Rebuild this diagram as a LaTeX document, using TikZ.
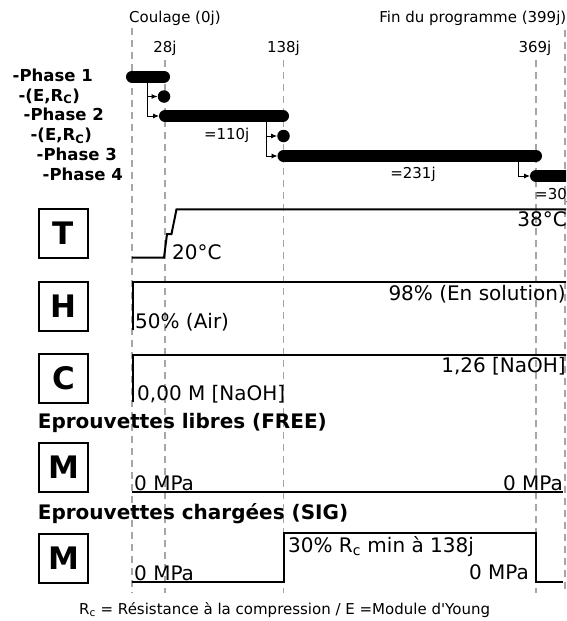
\documentclass[tikz,border=0pt]{standalone}
\usepackage{fontspec}
\setmainfont{DejaVu Sans}
\usetikzlibrary{positioning,arrows.meta,calc}
\tikzset{
  dayline/.style={gray!70, line width=1.2pt, dash pattern=on 7pt off 5pt},
  phasebar/.style={line width=12pt, line cap=round},
  phasedot/.style={circle, fill=black, inner sep=0pt, minimum size=12.5pt},
  linkarrow/.style={-{Latex[length=6pt,width=5pt]}, line width=0.9pt},
  phaselabel/.style={font=\fontsize{16.5}{18}\selectfont\bfseries, anchor=base east, inner sep=0pt},
  daylabel/.style={font=\fontsize{15}{17}\selectfont, inner sep=0pt},
  curve/.style={line width=2pt},
  curvelabel/.style={font=\fontsize{20}{22}\selectfont, inner sep=0pt},
  parambox/.style={draw, line width=2pt, minimum size=49pt, inner sep=0pt, font=\fontsize{31}{31}\selectfont\bfseries},
  grouplabel/.style={font=\fontsize{20}{22}\selectfont\bfseries, anchor=base west, inner sep=0pt}
}
\begin{document}
\begin{tikzpicture}[x=1pt, y=-1pt]
  \useasboundingbox (0,0) rectangle (566,621);
  \clip (0,0) rectangle (566,621);
  % day marks
  \foreach \x/\ytop in {132/28, 165/60, 283.5/60, 536/60, 565/30}
    \draw[dayline] (\x,\ytop) -- (\x,593);
  \node[daylabel, anchor=base west] (coulage) at (129,22.7) {Coulage (0j)};
  \node[daylabel, anchor=base east] (fin) at (566.5,22.7) {Fin du programme (399j)};
  \node[daylabel, anchor=base] (j28) at (165,52.7) {28j};
  \node[daylabel, anchor=base] (j138) at (283.5,52.7) {138j};
  \node[daylabel, anchor=base] (j369) at (535,52.7) {369j};
  % phases
  \node[phaselabel] (ph1) at (93,81.7) {-Phase 1};
  \node[phaselabel] (em1) at (80,101) {-(E,R\textsubscript{C})};
  \node[phaselabel] (ph2) at (104,120.7) {-Phase 2};
  \node[phaselabel] (em2) at (92,140.7) {-(E,R\textsubscript{C})};
  \node[phaselabel] (ph3) at (117,160.7) {-Phase 3};
  \node[phaselabel] (ph4) at (123,180.5) {-Phase 4};
  \coordinate (p1a) at (132,76.5);
  \coordinate (p1b) at (164,76.5);
  \coordinate (p2a) at (165,116);
  \coordinate (p2b) at (283,116);
  \coordinate (p3a) at (283.5,156);
  \coordinate (p3b) at (536,156);
  \coordinate (p4a) at (536,176);
  \coordinate (p4b) at (620,176);
  \draw[phasebar] (p1a) -- (p1b);
  \draw[phasebar] (p2a) -- (p2b);
  \draw[phasebar] (p3a) -- (p3b);
  \draw[phasebar] (p4a) -- (p4b);
  \node[phasedot] (m1) at (164,96.5) {};
  \node[phasedot] (m2) at (283.5,136) {};
  \coordinate (l1) at (147,76.5);
  \coordinate (l2) at (266.7,116);
  \coordinate (l3) at (518,156);
  \draw[linkarrow] (l1) |- (m1.west);
  \draw[linkarrow] (l1) |- ([xshift=-6pt]p2a);
  \draw[linkarrow] (l2) |- (m2.west);
  \draw[linkarrow] (l2) |- ([xshift=-6pt]p3a);
  \draw[linkarrow] (l3) |- ([xshift=-6pt]p4a);
  \node[daylabel, anchor=base] (dur2) at (226.7,139) {=110j};
  \node[daylabel, anchor=base] (dur3) at (413,178) {=231j};
  \node[daylabel, anchor=base west] (dur4) at (535,199) {=30j};
  % temperature
  \node[parambox] (T) at (63.5,233.5) {T};
  \draw[curve] (132,257.7) -- (164,257.7) -- (167,234) -- (171.5,234) -- (176.5,209.3) -- (600,209.3);
  \node[curvelabel, anchor=base west] (t20) at (172,259) {20°C};
  \node[curvelabel, anchor=base east] (t38) at (567,226.7) {38°C};
  % humidity
  \node[parambox] (H) at (63.5,306.5) {H};
  \draw[curve] (133,330) -- (133,282) -- (600,282);
  \node[curvelabel, anchor=base west] (h50) at (135,328) {50\% (Air)};
  \node[curvelabel, anchor=base east] (h98) at (566,300) {98\% (En solution)};
  % concentration
  \node[parambox] (C) at (63.5,378.5) {C};
  \draw[curve] (133,401.7) -- (133,355) -- (600,355);
  \node[curvelabel, anchor=base west] (c0) at (137,400.5) {0,00 M [NaOH]};
  \node[curvelabel, anchor=base east] (c1) at (566,372.5) {1,26 [NaOH]};
  % free specimens
  \node[grouplabel] (free) at (37.7,428) {Eprouvettes libres (FREE)};
  \node[parambox] (M1) at (63.5,467.5) {M};
  \draw[curve] (132,491.7) -- (563,491.7);
  \node[curvelabel, anchor=base west] (f0a) at (134,490) {0 MPa};
  \node[curvelabel, anchor=base east] (f0b) at (563,490) {0 MPa};
  % loaded specimens
  \node[grouplabel] (sig) at (37.7,519) {Eprouvettes chargées (SIG)};
  \node[parambox] (M2) at (63.5,558) {M};
  \draw[curve] (132,581.7) -- (283.5,581.7) -- (283.5,532.7) -- (535.5,532.7) -- (535.5,581.7) -- (563,581.7);
  \node[curvelabel, anchor=base west] (s0a) at (134,580) {0 MPa};
  \node[curvelabel, anchor=base west] (s30) at (288,552) {30\% R\textsubscript{c} min à 138j};
  \node[curvelabel, anchor=base east] (s0b) at (529,579.5) {0 MPa};
  \node[daylabel, anchor=base west] (legend) at (79,614) {R\textsubscript{c} = Résistance à la compression / E =Module d\textquotesingle Young};
\end{tikzpicture}
\end{document}
